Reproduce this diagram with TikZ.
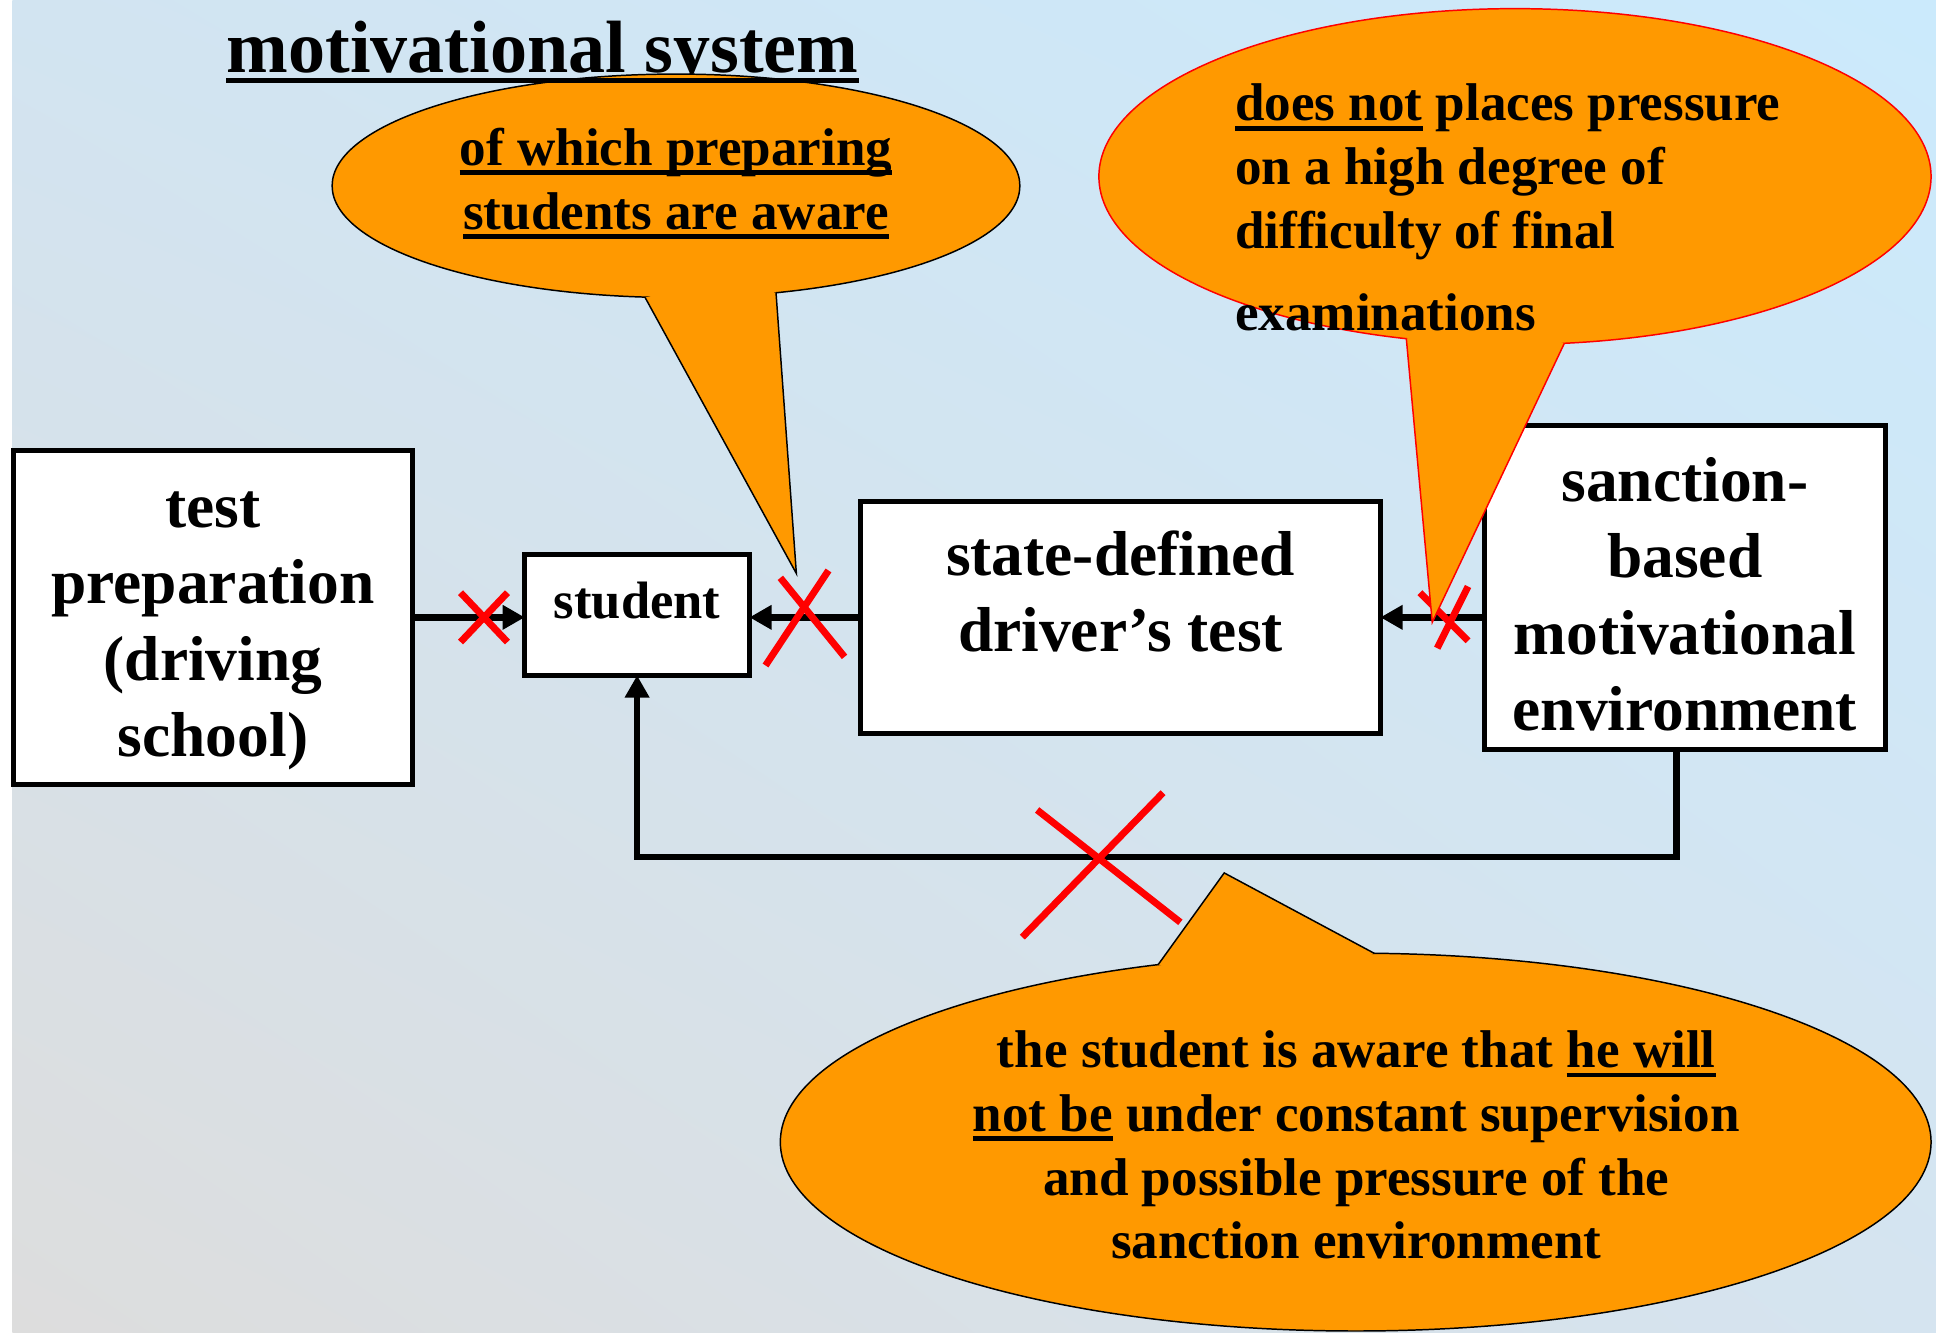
\documentclass[tikz,border=0pt]{standalone}
\usepackage{fontspec}
\setmainfont{Liberation Serif}
\usetikzlibrary{arrows.meta,shadings}
\definecolor{callorange}{HTML}{FF9900}
\definecolor{bgUL}{RGB}{210,228,241}
\definecolor{bgUR}{RGB}{203,234,252}
\definecolor{bgLL}{RGB}{221,221,221}
\definecolor{bgLR}{RGB}{213,228,240}
\newcommand{\myul}[1]{\setbox0=\hbox{#1}\rlap{\rule[-0.184em]{\wd0}{0.09em}}\box0\relax}
\begin{document}
\begin{tikzpicture}[x=0.5pt,y=-0.5pt,
  box/.style={draw=black, line width=2pt, fill=white, inner sep=0pt, outer sep=0pt},
  boxtext/.style={font=\fontsize{25.7}{31}\selectfont\bfseries},
  calltext/.style={font=\fontsize{21.5}{25.8}\selectfont\bfseries, inner sep=0pt},
  conn/.style={line width=2.7pt, -{Triangle[length=9pt,width=9.5pt]}},
  cross/.style={draw=red, line width=2.8pt},
  callfill/.style={fill=callorange},
  callline/.style={draw=black, line width=0.6pt},
  callred/.style={draw=red, line width=0.6pt},
]
\useasboundingbox (0,0) rectangle (1568,1079);
% background
\fill[white] (0,0) rectangle (1568,1079);
\shade[upper left=bgUL, upper right=bgUR, lower left=bgLL, lower right=bgLR] (10,0) rectangle (1568,1079);

% boxes
\node[box, boxtext, minimum width=161.5pt, minimum height=135pt, text height=20pt, text depth=93pt] (prep) at (172.5,500)
  {\begin{tabular}[t]{@{}c@{}}test\\preparation\\(driving\\school)\end{tabular}};
\node[box, font=\fontsize{21.3}{25.6}\selectfont\bfseries, minimum width=91pt, minimum height=49pt, text height=15pt, text depth=12pt] (stud) at (516,498) {student};
\node[box, boxtext, minimum width=210.5pt, minimum height=94pt, text height=20pt, text depth=54pt] (state) at (907.5,500)
  {\begin{tabular}[t]{@{}c@{}}state-defined\\driver’s test\end{tabular}};
\node[box, boxtext, minimum width=162.5pt, minimum height=131pt, text height=20pt, text depth=90pt] (sanc) at (1364.5,476)
  {\begin{tabular}[t]{@{}c@{}}sanction-\\based\\motivational\\environment\end{tabular}};

% connectors
\draw[conn] (prep.east) -- (prep.east -| stud.west);
\draw[conn] (state.west) -- (state.west -| stud.east);
\draw[conn] (state.east -| sanc.west) -- (state.east);
\coordinate (fb) at (1358,694);
\draw[conn] (sanc.south -| fb) -- (fb) -| (stud.south);

% red crosses
\draw[cross] (373,480) -- (411,520) (373,520) -- (411,480);
\draw[cross] (632,468) -- (684,532) (671,462) -- (620,539);
\draw[cross] (1150,480) -- (1189,519) (1189,475) -- (1164,525);
\draw[cross] (840,656) -- (956,747) (942,642) -- (828,759);

% callout 1
\fill[callfill] (547.5,150.5) ellipse [x radius=139.25pt, y radius=45.25pt];
\draw[callline] (547.5,150.5) ellipse [x radius=139.25pt, y radius=45.25pt];
\fill[callfill] (522.5,241) -- (645,464.5) -- (628.5,237) -- (575,228) -- cycle;
\draw[callline] (522.5,241) -- (645,464.5) -- (628.5,237);

% title
\begin{scope}
\clip (0,0) rectangle (1568,59.5);
\node[font=\fontsize{30}{36}\selectfont\bfseries, anchor=base, inner sep=0pt] (title) at (439.5,58.5) {motivational system};
\end{scope}
\draw[line width=2.2pt] ([yshift=-3.35pt]title.base west) -- ([yshift=-3.35pt]title.base east);

\node[calltext, anchor=base] (c1text) at (547.5,134)
  {\begin{tabular}[t]{@{}c@{}}\myul{of which preparing}\\\myul{students are aware}\end{tabular}};

% callout 2
\fill[callfill] (1227,143) ellipse [x radius=168.5pt, y radius=68pt];
\draw[callred] (1227,143) ellipse [x radius=168.5pt, y radius=68pt];
\fill[callfill] (1139,274.3) -- (1160,504) -- (1267,278) -- (1200,255) -- cycle;
\draw[callred] (1139,274.3) -- (1160,504) -- (1267,278);
\node[calltext, anchor=base west] (c2text) at (1000,98)
  {\begin{tabular}[t]{@{}l@{}}\myul{does not} places pressure\\on a high degree of\\difficulty of final\\[7.5pt]examinations\end{tabular}};

% callout 3
\fill[callfill] (1098,925) ellipse [x radius=233pt, y radius=76.5pt];
\draw[callline] (1098,925) ellipse [x radius=233pt, y radius=76.5pt];
\fill[callfill] (938,781.3) -- (991.5,707) -- (1113,772.1) -- (1030,795) -- cycle;
\draw[callline] (938,781.3) -- (991.5,707) -- (1113,772.1);
\node[calltext, anchor=base] (c3text) at (1098.5,864.7)
  {\begin{tabular}[t]{@{}c@{}}the student is aware that \myul{he will}\\\myul{not be} under constant supervision\\and possible pressure of the\\sanction environment\end{tabular}};
\end{tikzpicture}
\end{document}
